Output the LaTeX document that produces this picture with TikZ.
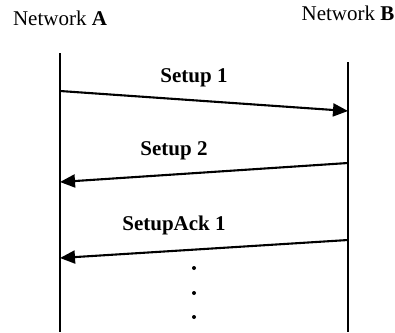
\documentclass[tikz,border=0pt]{standalone}
\usepackage{fontspec}
\setmainfont{Liberation Serif}
\usetikzlibrary{arrows.meta}

\begin{document}
\begin{tikzpicture}[x=1pt,y=1pt]
\tikzstyle{every node}=[inner sep=0pt,font=\fontsize{21}{24}\selectfont];
\tikzstyle{life}=[line width=1.9pt];
\tikzstyle{msg}=[line width=2.1pt,-{Triangle[length=15pt,width=13pt]}];
\tikzstyle{lbl}=[anchor=base,font=\fontsize{21}{24}\selectfont\bfseries];
\tikzstyle{pause}=[circle,fill,minimum size=4pt];
\useasboundingbox (0,0) rectangle (395,-332);
\node[anchor=base] (netA) at (60,-25) {Network \textbf{A}};
\node[anchor=base] (netB) at (348,-20) {Network \textbf{B}};
\coordinate (a0) at (60,-53);
\coordinate (a1) at (60,-332);
\coordinate (b0) at (348,-62);
\coordinate (b1) at (348,-332);
\draw[life] (a0) -- (a1);
\draw[life] (b0) -- (b1);
\coordinate (s1a) at (60,-91);
\coordinate (s1b) at (348,-111);
\coordinate (s2b) at (348,-163);
\coordinate (s2a) at (60,-182);
\coordinate (k1b) at (348,-240);
\coordinate (k1a) at (60,-258);
\draw[msg] (s1a) -- (s1b);
\draw[msg] (s2b) -- (s2a);
\draw[msg] (k1b) -- (k1a);
\node[lbl] (setup1) at (194,-82) {Setup 1};
\node[lbl] (setup2) at (174,-155) {Setup 2};
\node[lbl] (ack1) at (174,-230) {SetupAck 1};
\foreach \y [count=\i] in {268,293,317}
	\node[pause] (d\i) at (194,-\y) {};
\end{tikzpicture}
\end{document}
